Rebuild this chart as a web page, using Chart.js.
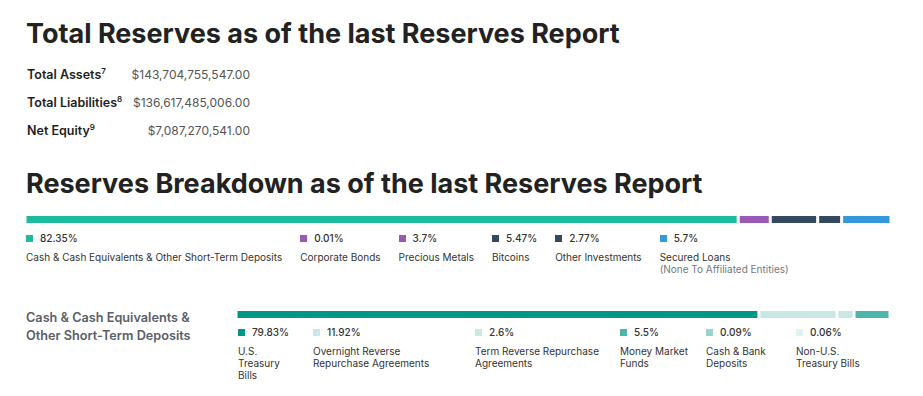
<!DOCTYPE html>
<html lang="en">
<head>
  <meta charset="UTF-8" />
  <title>Reserves Breakdown</title>
  <script src="https://cdn.jsdelivr.net/npm/chart.js"></script>
  <style>
    body {
      margin: 0;
      width: 923px;
      height: 396px;
      background: #fff;
      font-family: 'Inter', 'Noto Sans', sans-serif;
      position: relative;
      overflow: hidden;
    }

    .abs { position: absolute; white-space: nowrap; }

    h1 {
      position: absolute;
      left: 26px;
      margin: 0;
      font-size: 27px;
      line-height: 27px;
      font-weight: 700;
      color: #222;
    }

    .row-label {
      left: 27px;
      font-size: 12.5px;
      line-height: 13px;
      font-weight: 600;
      color: #1e1e1e;
    }
    .row-label sup { font-size: 8px; vertical-align: 5px; line-height: 0; }

    .row-value {
      right: 673px;
      font-size: 12px;
      line-height: 13px;
      color: #555;
    }

    canvas { position: absolute; }

    .legend { position: absolute; display: flex; }
    .legend .item { font-size: 10px; color: #333; }
    .legend .pct { display: flex; align-items: center; height: 12px; font-weight: 500; }
    .legend .sw { width: 7px; height: 7px; margin-right: 7px; }
    .legend .lbl { margin-top: 7px; line-height: 12px; white-space: pre; }
    .legend .note { color: #777; }

    #topLegend { left: 26px; top: 232px; gap: 18px; }
    #cashLegend { left: 238px; top: 326px; }

    .side-label {
      left: 26px;
      top: 309px;
      font-size: 12.7px;
      line-height: 18px;
      font-weight: 600;
      color: #5b6068;
    }
  </style>
</head>
<body>

  <h1 style="top:20px">Total Reserves as of the last Reserves Report</h1>

  <div class="abs row-label" style="top:68px">Total Assets<sup>7</sup></div>
  <div class="abs row-value" style="top:68px" id="v0"></div>
  <div class="abs row-label" style="top:96px">Total Liabilities<sup>8</sup></div>
  <div class="abs row-value" style="top:96px" id="v1"></div>
  <div class="abs row-label" style="top:124px">Net Equity<sup>9</sup></div>
  <div class="abs row-value" style="top:124px" id="v2"></div>

  <h1 style="top:170px">Reserves Breakdown as of the last Reserves Report</h1>

  <canvas id="topBar" width="866" height="15" style="left:25px; top:212px"></canvas>
  <div class="legend" id="topLegend"></div>

  <div class="abs side-label">Cash &amp; Cash Equivalents &amp;<br>Other Short-Term Deposits</div>

  <canvas id="cashBar" width="655" height="15" style="left:236px; top:307px"></canvas>
  <div class="legend" id="cashLegend"></div>

  <script>
    // summary figures
    const totals = ['$143,704,755,547.00', '$136,617,485,006.00', '$7,087,270,541.00'];

    // reserves breakdown (%)
    const topLabels = ['Cash & Cash Equivalents & Other Short-Term Deposits', 'Corporate Bonds', 'Precious Metals', 'Bitcoins', 'Other Investments', 'Secured Loans'];
    const topNotes = ['', '', '', '', '', '(None To Affiliated Entities)'];
    const topValues = [82.35, 0.01, 3.7, 5.47, 2.77, 5.7];
    const topColors = ['#1abc9c', '#9b59b6', '#9b59b6', '#34495e', '#34495e', '#3498db'];

    // cash & cash equivalents breakdown (%)
    const cashLabels = ['U.S.\nTreasury\nBills', 'Overnight Reverse\nRepurchase Agreements', 'Term Reverse Repurchase\nAgreements', 'Money Market\nFunds', 'Cash & Bank\nDeposits', 'Non-U.S.\nTreasury Bills'];
    const cashValues = [79.83, 11.92, 2.6, 5.5, 0.09, 0.06];
    const cashColors = ['#009688', '#c9e7e5', '#c9e7e5', '#4db6ac', '#99d3ce', '#e0f2f1'];
    const cashItemWidths = [75, 162, 145, 86, 90, 90];

    totals.forEach((t, i) => document.getElementById('v' + i).textContent = t);

    function stackedBar(id, labels, values, colors) {
      new Chart(document.getElementById(id), {
        type: 'bar',
        data: {
          labels: [''],
          datasets: values.map((v, i) => ({
            label: labels[i],
            data: [v],
            backgroundColor: colors[i],
            borderColor: '#ffffff',
            borderWidth: { left: 1.5, right: 1.5, top: 0, bottom: 0 },
            borderSkipped: false,
            inflateAmount: 0,
            barThickness: 7
          }))
        },
        options: {
          indexAxis: 'y',
          responsive: false,
          animation: false,
          layout: { padding: 0 },
          plugins: { legend: { display: false }, tooltip: { enabled: false } },
          scales: {
            x: { stacked: true, min: 0, max: 100, display: false },
            y: { stacked: true, display: false }
          }
        }
      });
    }

    function buildLegend(id, labels, values, colors, notes, widths) {
      const box = document.getElementById(id);
      labels.forEach((lab, i) => {
        const item = document.createElement('div');
        item.className = 'item';
        if (widths) item.style.width = widths[i] + 'px';
        let html = `<div class="pct"><span class="sw" style="background:${colors[i]}"></span>${values[i]}%</div>`;
        html += `<div class="lbl">${lab.replace(/&/g, '&amp;')}`;
        if (notes && notes[i]) html += `\n<span class="note">${notes[i]}</span>`;
        html += '</div>';
        item.innerHTML = html;
        box.appendChild(item);
      });
    }

    stackedBar('topBar', topLabels, topValues, topColors);
    stackedBar('cashBar', cashLabels, cashValues, cashColors);
    buildLegend('topLegend', topLabels, topValues, topColors, topNotes);
    buildLegend('cashLegend', cashLabels, cashValues, cashColors, null, cashItemWidths);
  </script>

</body>
</html>
